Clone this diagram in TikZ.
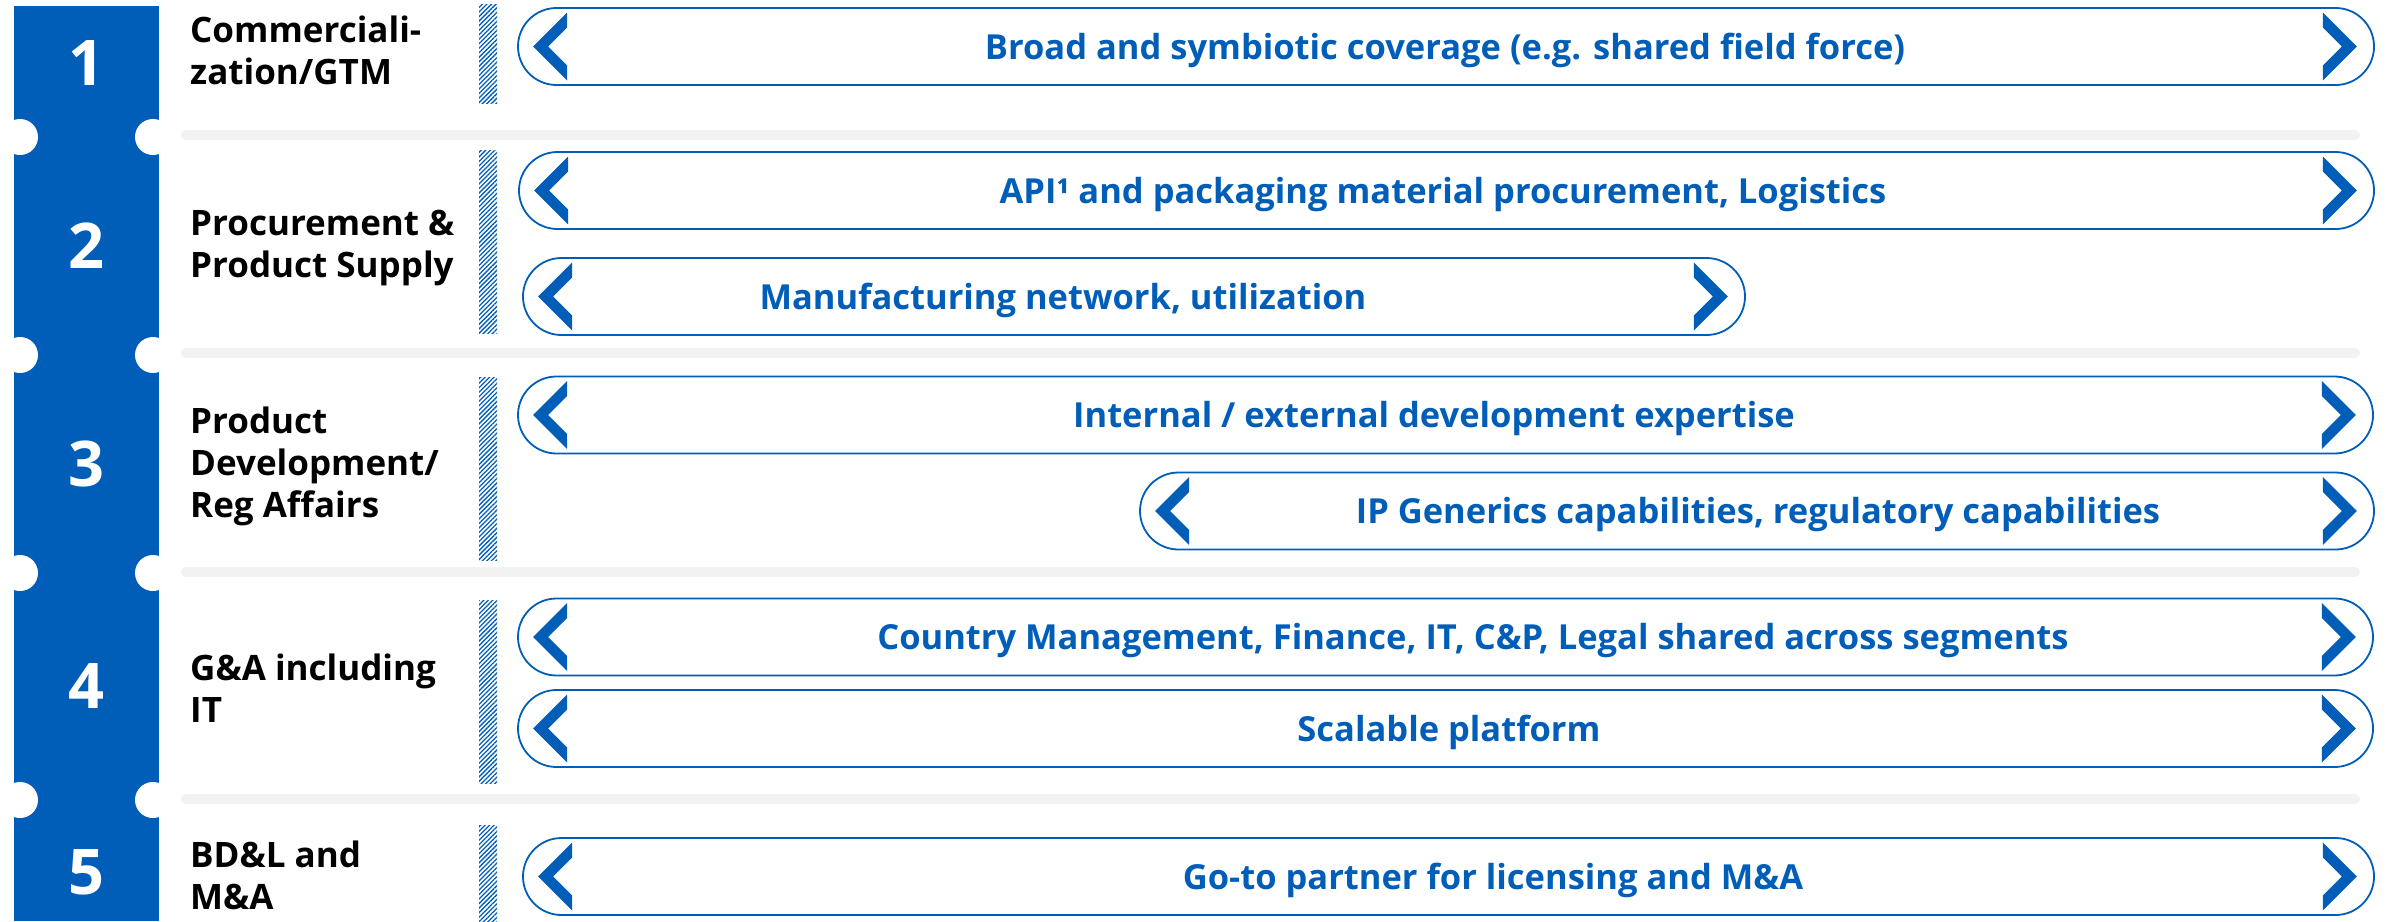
\documentclass[tikz,border=0pt]{standalone}
\usepackage{fontspec}
\setmainfont{Open Sans}
\usetikzlibrary{shapes.misc,patterns.meta,positioning}

\definecolor{brandblue}{RGB}{0,94,184}
\definecolor{rulegray}{RGB}{242,242,242}

\tikzset{
  pill/.style={rounded rectangle, draw=brandblue, line width=1.8pt,
    minimum height=77pt, inner sep=0pt},
  pilltext/.style={text=brandblue, font=\bfseries\fontsize{34.5}{40}\selectfont,
    text height=25pt, text depth=0pt, inner sep=0pt},
  rowlabel/.style={anchor=west, align=left, inner sep=0pt,
    font=\bfseries\fontsize{35}{42}\selectfont},
  rownum/.style={text=white, font=\bfseries\fontsize{63}{63}\selectfont, inner sep=0pt},
  hatch/.style={pattern={Lines[angle=45,distance=3.2pt,line width=1.3pt]},
    pattern color=brandblue},
}

% the two chevrons at the ends of a pill
\newcommand{\pillchevrons}[1]{%
  \fill[brandblue, shift={(#1.west)}] (16,0) -- (50,-34) -- (50,-19) -- (31,0)
    -- (50,19) -- (50,34) -- cycle;
  \fill[brandblue, shift={(#1.east)}] (-18,0) -- (-52,-34) -- (-52,-19) -- (-33,0)
    -- (-52,19) -- (-52,34) -- cycle;
}

\begin{document}
\begin{tikzpicture}[x=1pt,y=-1pt]
  \useasboundingbox (0,0) rectangle (2387,921);

  % numbered column with notches
  \fill[brandblue] (14,6) rectangle (159,921);
  \foreach \y in {137,355,573,800} {
    \fill[white] (20,\y) circle (18);
    \fill[white] (153,\y) circle (18);
  }
  \node[rownum] (n1) at (86.5,63) {1};
  \node[rownum] (n2) at (86.5,246) {2};
  \node[rownum] (n3) at (86.5,464) {3};
  \node[rownum] (n4) at (86.5,686) {4};
  \node[rownum] (n5) at (86.5,872) {5};

  % row titles
  \node[rowlabel] (l1) at (190,50) {Commerciali-\\zation/GTM};
  \node[rowlabel] (l2) at (190,248) {Procurement \&\\Product Supply};
  \node[rowlabel] (l3) at (190,466) {Product\\Development/\\Reg Affairs};
  \node[rowlabel] (l4) at (190,688) {G\&A including\\IT};
  \node[rowlabel] (l5) at (190,875) {BD\&L and\\M\&A};

  % separators
  \foreach \y in {135,353,572,799}
    \draw[rulegray, line width=10pt, line cap=round] (186,\y) -- (2355,\y);
  \foreach \a/\b in {4/103,150/333,377/560,600/783,825/921}
    \fill[hatch] (479,\a) rectangle (497,\b);

  % pills
  \node[pill, minimum width=1856pt] (p1) at (1446,46.5) {};
  \node[pill, minimum width=1855pt] (p2a) at (1446.5,190.5) {};
  \node[pill, minimum width=1222pt] (p2b) at (1134,296.5) {};
  \node[pill, minimum width=1855pt] (p3a) at (1445.5,415) {};
  \node[pill, minimum width=1234pt] (p3b) at (1757,511) {};
  \node[pill, minimum width=1855pt] (p4a) at (1445.5,637) {};
  \node[pill, minimum width=1855pt] (p4b) at (1445.5,728.5) {};
  \node[pill, minimum width=1851pt] (p5) at (1448.5,876.5) {};
  \foreach \p in {p1,p2a,p2b,p3a,p3b,p4a,p4b,p5} {
    \pillchevrons{\p}
  }

  \node[pilltext] (t1) at (1445,46.5) {Broad and symbiotic coverage (e.g. shared field force)};
  \node[pilltext] (t2a) at (1443,190.5) {API¹ and packaging material procurement, Logistics};
  \node[pilltext] (t2b) at (1063,296.5) {Manufacturing network, utilization};
  \node[pilltext] (t3a) at (1434,415) {Internal / external development expertise};
  \node[pilltext] (t3b) at (1758,511) {IP Generics capabilities, regulatory capabilities};
  \node[pilltext] (t4a) at (1473,637) {Country Management, Finance, IT, C\&P, Legal shared across segments};
  \node[pilltext] (t4b) at (1449,728.5) {Scalable platform};
  \node[pilltext] (t5) at (1493,876.5) {Go-to partner for licensing and M\&A};
\end{tikzpicture}
\end{document}
